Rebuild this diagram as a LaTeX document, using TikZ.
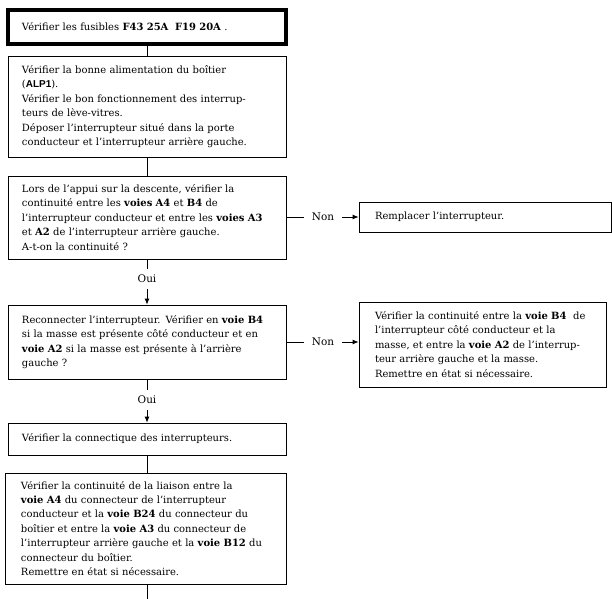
\documentclass[tikz,border=0pt]{standalone}
\usepackage{fontspec}
\setmainfont{DejaVu Serif}
\newfontfamily\alpfont{Liberation Sans}
\usetikzlibrary{arrows.meta}
\begin{document}
\begin{tikzpicture}[x=1bp,y=-1bp,
  box/.style={draw,line width=0.8bp,rectangle,inner xsep=14bp,inner ysep=0bp,
    align=left,font=\fontsize{10}{14.5}\selectfont,anchor=center},
  lbl/.style={inner xsep=8bp,inner ysep=6bp,font=\fontsize{10.5}{12}\selectfont},
  conn/.style={line width=0.8bp},
  arr/.style={line width=0.8bp,-{Latex[length=6bp,width=5bp]}}]
\useasboundingbox (0,0) rectangle (612,599);
\fill[white] (0,0) rectangle (612,599);

\node[box,line width=3.5bp,minimum width=278bp,minimum height=34bp,text width=250bp] (b1) at (147,27)
  {Vérifier les fusibles \textbf{F43 25A\ \ F19 20A} .};
\node[box,minimum width=278bp,minimum height=101bp,text width=250bp] (b2) at (147,106.5)
  {Vérifier la bonne alimentation du boîtier\\
   ({\alpfont\bfseries\fontsize{10}{12}\selectfont ALP1}).\\
   Vérifier le bon fonctionnement des interrup-\\
   teurs de lève-vitres.\\
   Déposer l’interrupteur situé dans la porte\\
   conducteur et l’interrupteur arrière gauche.};
\node[box,minimum width=278bp,minimum height=83bp,text width=250bp] (b3) at (147,217.5)
  {Lors de l’appui sur la descente, vérifier la\\
   continuité entre les \textbf{voies A4} et \textbf{B4} de\\
   l’interrupteur conducteur et entre les \textbf{voies A3}\\
   et \textbf{A2} de l’interrupteur arrière gauche.\\
   A-t-on la continuité ?};
\node[box,minimum width=252bp,minimum height=30bp,inner xsep=16bp,text width=220bp] (r1) at (485,217)
  {Remplacer l’interrupteur.};
\node[box,minimum width=278bp,minimum height=74bp,text width=250bp] (b4) at (147,342)
  {Reconnecter l’interrupteur. Vérifier en \textbf{voie B4}\\
   si la masse est présente côté conducteur et en\\
   \textbf{voie A2} si la masse est présente à l’arrière\\
   gauche ?};
\node[box,minimum width=247bp,minimum height=85bp,inner xsep=16bp,text width=215bp] (r2) at (482.5,344.5)
  {Vérifier la continuité entre la \textbf{voie B4}\ \ de\\
   l’interrupteur côté conducteur et la\\
   masse, et entre la \textbf{voie A2} de l’interrup-\\
   teur arrière gauche et la masse.\\
   Remettre en état si nécessaire.};
\node[box,minimum width=278bp,minimum height=32bp,text width=250bp] (b5) at (147,439)
  {Vérifier la connectique des interrupteurs.};
\node[box,minimum width=281bp,minimum height=111bp,inner xsep=16bp,text width=249bp] (b6) at (145.5,528.5)
  {Vérifier la continuité de la liaison entre la\\
   \textbf{voie A4} du connecteur de l’interrupteur\\
   conducteur et la \textbf{voie B24} du connecteur du\\
   boîtier et entre la \textbf{voie A3} du connecteur de\\
   l’interrupteur arrière gauche et la \textbf{voie B12} du\\
   connecteur du boîtier.\\
   Remettre en état si nécessaire.};

\node[lbl] (oui1) at (147,279) {Oui};
\node[lbl] (oui2) at (147,400) {Oui};
\node[lbl] (non1) at (323,217) {Non};
\node[lbl] (non2) at (323,342) {Non};
\coordinate (endpt) at (147,599);

\draw[conn] (b1.south) -- (b2.north);
\draw[conn] (b2.south) -- (b3.north);
\draw[conn] (b3.south) -- (oui1.north);
\draw[arr] (oui1.south) -- (b4.north);
\draw[conn] (b4.south) -- (oui2.north);
\draw[arr] (oui2.south) -- (b5.north);
\draw[conn] (b5.south) -- (b5.south |- b6.north);
\draw[conn] (b6.south -| endpt) -- (endpt);
\draw[conn] (b3.east |- non1) -- (non1.west);
\draw[arr] (non1.east) -- (non1 -| r1.west);
\draw[conn] (b4.east |- non2) -- (non2.west);
\draw[arr] (non2.east) -- (non2 -| r2.west);
\end{tikzpicture}
\end{document}
